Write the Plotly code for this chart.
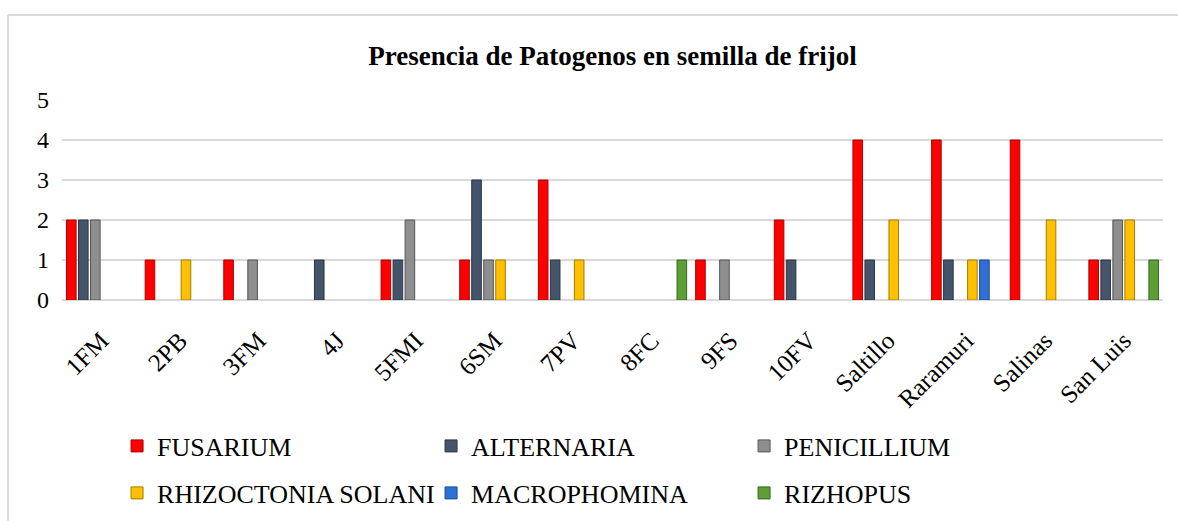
import plotly.graph_objects as go

categories = ["1FM", "2PB", "3FM", "4J", "5FMI", "6SM", "7PV", "8FC", "9FS", "10FV",
              "Saltillo", "Raramuri", "Salinas", "San Luis"]

fusarium     = [2, 1, 1, 0, 1, 1, 3, 0, 1, 2, 4, 4, 4, 1]
alternaria   = [2, 0, 0, 1, 1, 3, 1, 0, 0, 1, 1, 1, 0, 1]
penicillium  = [2, 0, 1, 0, 2, 1, 0, 0, 1, 0, 0, 0, 0, 2]
rhizoctonia  = [0, 1, 0, 0, 0, 1, 1, 0, 0, 0, 2, 1, 2, 2]
macrophomina = [0, 0, 0, 0, 0, 0, 0, 0, 0, 0, 0, 1, 0, 0]
rizhopus     = [0, 0, 0, 0, 0, 0, 0, 1, 0, 0, 0, 0, 0, 1]

series_names = ["FUSARIUM", "ALTERNARIA", "PENICILLIUM",
                "RHIZOCTONIA SOLANI", "MACROPHOMINA", "RIZHOPUS"]
series_values = [fusarium, alternaria, penicillium, rhizoctonia, macrophomina, rizhopus]
fill_colors = ["#FF0000", "#44546A", "#8E8E8E", "#FFC000", "#2E70D4", "#5E9E36"]
line_colors = ["#B00000", "#2A3647", "#555555", "#A67C00", "#1B4A92", "#3A6620"]
legend_ids = ["legend", "legend2", "legend3", "legend4", "legend5", "legend6"]

FONT = "Liberation Serif, serif"

fig = go.Figure()
for name, vals, fc, lc, lg in zip(series_names, series_values, fill_colors, line_colors, legend_ids):
    fig.add_trace(go.Bar(
        x=categories,
        y=[v if v else None for v in vals],
        name=name,
        marker=dict(color=fc, line=dict(color=lc, width=1)),
        legend=lg,
    ))

def legend_box(x, y):
    return dict(
        x=x, y=y,
        orientation="h",
        font=dict(family=FONT, size=26, color="black"),
        bgcolor="rgba(0,0,0,0)",
        xanchor="left",
        yanchor="middle",
    )

col_x = [0.0500, 0.3352, 0.6195]
row_y = [-0.73, -0.965]

fig.update_layout(
    width=1178,
    height=521,
    font=dict(family=FONT, color="black"),
    margin=dict(l=62, r=15, t=100, b=221, autoexpand=False),
    paper_bgcolor="white",
    plot_bgcolor="white",
    barmode="group",
    bargap=0.084,
    bargroupgap=0.2,
    title=dict(
        text="<b>Presencia de Patogenos en semilla de frijol</b>",
        font=dict(family=FONT, size=27, color="black"),
        x=0.5, xref="paper", xanchor="center",
        y=0.894, yref="container", yanchor="middle",
    ),
    xaxis=dict(
        tickangle=-45,
        tickfont=dict(family=FONT, size=25, color="black"),
        showgrid=False,
        showline=False,
        ticks="",
        ticklabelstandoff=20,
        automargin=False,
    ),
    yaxis=dict(
        range=[0, 5],
        dtick=1,
        tickfont=dict(family=FONT, size=24, color="black"),
        ticksuffix="  ",
        showgrid=True,
        gridcolor="#D9D9D9",
        gridwidth=1.5,
        zeroline=True,
        zerolinecolor="#D9D9D9",
        zerolinewidth=1.5,
        showline=False,
        ticks="",
        automargin=False,
    ),
    legend=legend_box(col_x[0], row_y[0]),
    legend2=legend_box(col_x[1], row_y[0]),
    legend3=legend_box(col_x[2], row_y[0]),
    legend4=legend_box(col_x[0], row_y[1]),
    legend5=legend_box(col_x[1], row_y[1]),
    legend6=legend_box(col_x[2], row_y[1]),
    showlegend=True,
    shapes=[
        dict(type="line", xref="paper", yref="paper", x0=-0.049, x1=1.2, y0=1.425, y1=1.425,
             line=dict(color="#D9D9D9", width=2)),
        dict(type="line", xref="paper", yref="paper", x0=-0.049, x1=-0.049, y0=1.425, y1=-1.3,
             line=dict(color="#D9D9D9", width=2)),
    ],
)

post = (
    "document.body.style.margin='0';"
    "document.querySelectorAll('.legendtext').forEach(function(e){"
    "e.style.fontFamily='\"Liberation Serif\", serif';});"
)
fig.write_html("out.html", config={"displayModeBar": False}, post_script=post)
